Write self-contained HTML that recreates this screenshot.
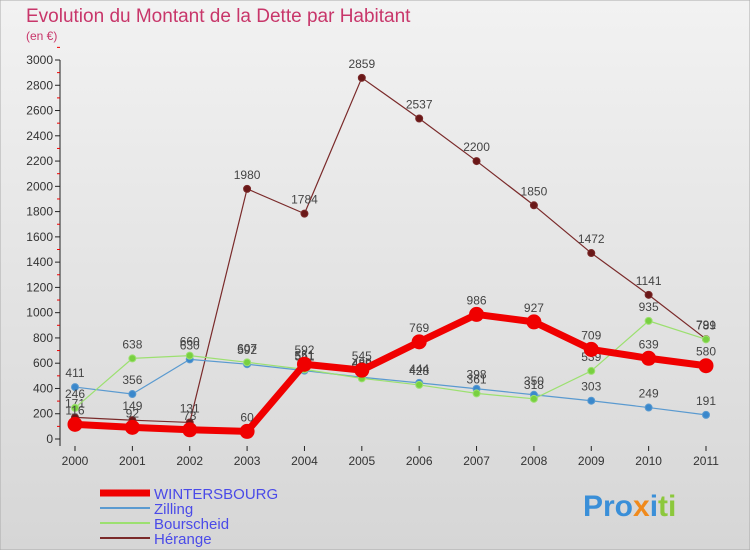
<!DOCTYPE html>
<html><head><meta charset="utf-8"><style>
body{margin:0;width:750px;height:550px;overflow:hidden;font-family:"Liberation Sans",sans-serif}
svg{display:block}
</style></head><body>
<svg id="chart" width="750" height="550" xmlns="http://www.w3.org/2000/svg">
<defs>
<linearGradient id="bg" x1="0" y1="0" x2="0" y2="1"><stop offset="0" stop-color="#f2f2f2"/><stop offset="1" stop-color="#d6d6d6"/></linearGradient>
</defs>
<rect width="750" height="550" fill="url(#bg)" stroke="#aaa"/>
<text x="26" y="22" font-size="19" fill="#c8366a">Evolution du Montant de la Dette par Habitant</text>
<text x="26" y="40" font-size="12" fill="#c8366a">(en €)</text>
<g id="axes"></g>
<g id="series"></g>
<g id="legend"></g>
<text x="583" y="516" font-size="30" font-weight="bold"><tspan fill="#3a8fd8">Pro</tspan><tspan fill="#f08a1c">x</tspan><tspan fill="#3a8fd8">i</tspan><tspan fill="#8cc83c">ti</tspan></text>
</svg>
<script>
const years=[2000,2001,2002,2003,2004,2005,2006,2007,2008,2009,2010,2011];
const yTicks=[0,200,400,600,800,1000,1200,1400,1600,1800,2000,2200,2400,2600,2800,3000];
const wintersbourg=[116,92,73,60,592,545,769,986,927,709,639,580];
const zilling=[411,356,630,592,541,489,444,398,350,303,249,191];
const bourscheid=[246,638,660,607,551,480,428,361,318,539,935,789];
const herange=[171,149,131,1980,1784,2859,2537,2200,1850,1472,1141,791];
const NS="http://www.w3.org/2000/svg";
const x=i=>75+i*(706-75)/11;
const y=v=>439-v*(439-60)/3000;
function mk(t,a,p){const e=document.createElementNS(NS,t);for(const k in a)e.setAttribute(k,a[k]);p.appendChild(e);return e;}
const ax=document.getElementById('axes');
const yl=mk('line',{x1:60,y1:60,x2:60,y2:446,stroke:'#222'},ax);


yTicks.forEach(v=>{
 mk('line',{x1:55,y1:y(v),x2:60,y2:y(v),stroke:'#222'},ax);
 mk('line',{x1:57,y1:y(v+100),x2:60,y2:y(v+100),stroke:'#e00'},ax);
 const t=mk('text',{x:53,y:y(v)+4,'font-size':12,'text-anchor':'end',fill:'#333'},ax);t.textContent=v;
 
 
});
years.forEach((yr,i)=>{
 mk('line',{x1:x(i),y1:446,x2:x(i),y2:451,stroke:'#222'},ax);
 const t=mk('text',{x:x(i),y:465,'font-size':12,'text-anchor':'middle',fill:'#333'},ax);t.textContent=yr;
 
 
});
const sg=document.getElementById('series');
function series(data,color,dot,w,r,name){
 const g=mk('g',{},sg);
 
 
 mk('polyline',{points:data.map((v,i)=>x(i)+','+y(v)).join(' '),fill:'none',stroke:color,'stroke-width':w,'stroke-linejoin':'round'},g);
 data.forEach((v,i)=>{
  const c=mk('circle',{cx:x(i),cy:y(v),r:r,fill:dot,stroke:color,'stroke-width':1},g);
  
  
  const t=mk('text',{x:x(i),y:y(v)-10,'font-size':12,'text-anchor':'middle',fill:'#444'},g);t.textContent=v;
  
  
 });
}
series(herange,'#7a2a2a','#6a1818',1.2,3.5,'herange');
series(zilling,'#5a9ad0','#3a88cc',1.2,3.5,'zilling');
series(bourscheid,'#9ce070','#78d040',1.2,3.5,'bourscheid');
series(wintersbourg,'#f00000','#f00000',7,7,'wintersbourg');
const lg=document.getElementById('legend');
const items=[['WINTERSBOURG','#f00000',7],['Zilling','#5a9ad0',2],['Bourscheid','#9ce070',2],['Hérange','#7a2a2a',2]];
items.forEach((it,k)=>{
 const yy=493+k*15;
 const g=mk('g',{},lg);
 
 
 mk('line',{x1:100,y1:yy,x2:150,y2:yy,stroke:it[1],'stroke-width':it[2]},g);
 const t=mk('text',{x:154,y:yy+6,'font-size':15,fill:'#4a4ae8'},g);t.textContent=it[0];
});
</script>
</body></html>
